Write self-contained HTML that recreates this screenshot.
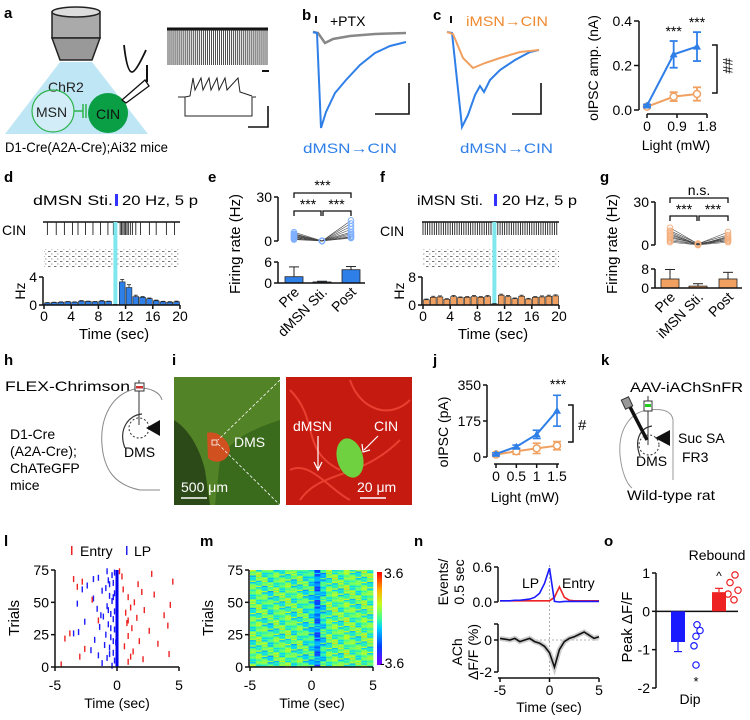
<!DOCTYPE html>
<html><head><meta charset="utf-8"><style>
html,body{margin:0;padding:0;background:#fff}
svg{display:block;font-family:"Liberation Sans",Arial,sans-serif}
.pl{font-weight:bold;font-size:15px}
.t{font-size:14px}
.tk{font-size:13px}
</style></head><body>
<svg id="fig" width="750" height="720" viewBox="0 0 750 720" xmlns="http://www.w3.org/2000/svg">
<defs>
<pattern id="rast" width="6" height="5" patternUnits="userSpaceOnUse"><rect x="0" y="1" width="2.5" height="1" fill="#777"/><rect x="3" y="3.5" width="1.5" height="1" fill="#999"/></pattern>
<linearGradient id="jet" x1="0" y1="1" x2="0" y2="0"><stop offset="0" stop-color="#7f00ff"/><stop offset="0.2" stop-color="#0040ff"/><stop offset="0.4" stop-color="#00d0ff"/><stop offset="0.5" stop-color="#40ff90"/><stop offset="0.65" stop-color="#c0ff20"/><stop offset="0.8" stop-color="#ffb000"/><stop offset="1" stop-color="#ff0000"/></linearGradient>
</defs>

<g>
<text class="pl" x="4" y="18">a</text><text class="pl" x="302" y="20">b</text><text class="pl" x="433" y="20">c</text>
<text class="pl" x="4" y="182">d</text><text class="pl" x="208" y="182">e</text><text class="pl" x="380" y="182">f</text><text class="pl" x="600" y="182">g</text>
<text class="pl" x="4" y="365">h</text><text class="pl" x="172" y="365">i</text><text class="pl" x="433" y="365">j</text><text class="pl" x="601" y="365">k</text>
<text class="pl" x="4" y="546">l</text><text class="pl" x="200" y="546">m</text><text class="pl" x="414" y="546">n</text><text class="pl" x="604" y="546">o</text>
</g>

<g>
<polygon points="60,62 92,62 148,134 5,134" fill="#bfe6f5"/>
<rect x="52" y="12" width="48" height="26" fill="#aaa" stroke="#222" stroke-width="1.5"/>
<ellipse cx="76" cy="12" rx="24" ry="5" fill="#ddd" stroke="#222" stroke-width="1.5"/>
<polygon points="52,38 100,38 92,60 60,60" fill="#999" stroke="#222" stroke-width="1.5"/>
<text x="48" y="92" class="t" fill="#222">ChR2</text>
<circle cx="53" cy="111" r="21" fill="#fff" fill-opacity="0.3" stroke="#2db34a" stroke-width="1.2"/>
<path d="M74,111 H83 M83,104 V118 M86,104 V118" stroke="#2db34a" stroke-width="1.5" fill="none"/>
<text x="36" y="117" class="t" fill="#222">MSN</text>
<circle cx="108" cy="113" r="20" fill="#0a9e45"/>
<text x="96" y="119" class="t" fill="#111">CIN</text>
<path d="M122,100 L145,80 L149,86 L126,103 Z" fill="#fff" stroke="#111" stroke-width="1.3"/>
<path d="M147,82 V65" stroke="#111" stroke-width="2"/>
<path d="M124,45 Q127,72 132,72 Q136,72 146,50" stroke="#111" stroke-width="1.8" fill="none"/>
<text x="5" y="152" class="t" textLength="163" lengthAdjust="spacingAndGlyphs">D1-Cre(A2A-Cre);Ai32 mice</text>
<g id="spikeA"></g>
<path d="M262,71 H269" stroke="#111" stroke-width="2"/>
<path d="M178,97 H185 M185,97 V116 H252 V97 H256" stroke="#222" stroke-width="1" fill="none"/>
<path d="M185,97 L190,96 L193,78 L195,90 L201,78 L203,90 L209,78 L211,90 L217,78 L219,90 L225,78 L227,90 L238,78 L240,92 L252,96" stroke="#222" stroke-width="1" fill="none"/>
<path d="M268,106 V127 H248" stroke="#111" stroke-width="1.6" fill="none"/>
</g>

<g>
<rect x="315" y="16" width="2" height="7" fill="#111"/>
<text x="330" y="26" class="t">+PTX</text>
<path d="M313,32 L318,33 L325,43 L333,39 L350,36 L375,34 L406,33" stroke="#888" stroke-width="2.5" fill="none"/>
<path d="M313,32 L317,33 L321,128 L326,112 L335,93 L346,80 L360,65 L375,53 L390,46 L406,42" stroke="#2f7fe8" stroke-width="2" fill="none"/>
<path d="M409,83 V114 H375" stroke="#111" stroke-width="1.6" fill="none"/>
<text x="303" y="153" class="t" fill="#2f7fe8" textLength="94" lengthAdjust="spacingAndGlyphs">dMSN→CIN</text>
</g>

<g>
<rect x="450" y="16" width="2" height="7" fill="#111"/>
<text x="466" y="26" class="t" fill="#f08a30" textLength="82" lengthAdjust="spacingAndGlyphs">iMSN→CIN</text>
<path d="M447,32 L452,33 L462,127 L468,115 L475,95 L480,86 L484,92 L490,80 L500,70 L515,60 L530,52 L539,50" stroke="#2f7fe8" stroke-width="2" fill="none"/>
<path d="M447,32 L453,34 L463,58 L473,68 L485,63 L500,58 L520,52 L539,50" stroke="#f0a060" stroke-width="2" fill="none"/>
<path d="M541,83 V114 H512" stroke="#111" stroke-width="1.6" fill="none"/>
<text x="460" y="153" class="t" fill="#2f7fe8" textLength="93" lengthAdjust="spacingAndGlyphs">dMSN→CIN</text>
</g>

<g id="chartC"></g>
<g id="chartD"></g>
<g id="chartE"></g>
<g id="chartF"></g>
<g id="chartG"></g>

<g>
<text x="33" y="205" class="t" textLength="80" lengthAdjust="spacingAndGlyphs">dMSN Sti.</text>
<rect x="115" y="194" width="3" height="12" fill="#3333ff"/>
<text x="122" y="205" class="t" textLength="76" lengthAdjust="spacingAndGlyphs">20 Hz, 5 p</text>
<text x="2" y="235" class="t">CIN</text>
</g>
<g>
<text x="417" y="205" class="t" textLength="66" lengthAdjust="spacingAndGlyphs">iMSN Sti.</text>
<rect x="494" y="194" width="3" height="12" fill="#3333ff"/>
<text x="502" y="205" class="t" textLength="75" lengthAdjust="spacingAndGlyphs">20 Hz, 5 p</text>
<text x="380" y="236" class="t">CIN</text>
</g>

<g>
<text x="5" y="391" class="t" textLength="125" lengthAdjust="spacingAndGlyphs">FLEX-Chrimson</text>
<text x="10" y="439" class="t">D1-Cre</text>
<text x="10" y="456" class="t">(A2A-Cre);</text>
<text x="10" y="473" class="t">ChATeGFP</text>
<text x="10" y="490" class="t">mice</text>
<path d="M140,388 C110,392 100,420 102,445 C104,470 115,485 140,490 L160,490" stroke="#888" stroke-width="1" fill="none"/>
<path d="M140,388 C150,388 160,392 162,400" stroke="#888" stroke-width="1" fill="none"/>
<path d="M125,448 C118,430 128,415 142,414" stroke="#333" stroke-width="1.2" fill="none"/>
<circle cx="139" cy="428" r="10" fill="none" stroke="#333" stroke-dasharray="2,2"/>
<path d="M139,380 V425" stroke="#333" stroke-width="1"/>
<rect x="135" y="383" width="9" height="8" fill="#fff" stroke="#333"/><rect x="136" y="386" width="7" height="2.5" fill="#c33"/>
<polygon points="146,428 160,420 160,436" fill="#111"/>
<text x="124" y="457" class="t">DMS</text>
</g>

<g>
<rect x="174" y="377" width="106" height="128" fill="#3a6a1c"/>
<path d="M174,377 H280 V420 C250,430 230,440 220,460 L215,505 H174 Z" fill="#5a8a2a" opacity="0.8"/>
<path d="M174,420 C190,430 200,450 205,470 L210,505 H174 Z" fill="#2c4a18"/>
<path d="M207,433 C215,430 228,438 230,450 C228,462 215,465 208,458 Z" fill="#d05020"/>
<rect x="212" y="440" width="5" height="5" fill="none" stroke="#fff" stroke-width="0.8"/>
<text x="234" y="447" class="t" fill="#fff">DMS</text>
<text x="181" y="492" class="t" fill="#fff">500 μm</text>
<path d="M181,498 H207" stroke="#fff" stroke-width="1.5"/>
<path d="M280,380 L218,440 M218,444 L280,505" stroke="#fff" stroke-dasharray="3,2" stroke-width="0.8"/>
<rect x="286" y="377" width="126" height="128" fill="#c41a10"/>
<path d="M290,390 C320,420 300,450 340,470 M300,500 C320,470 360,480 400,440 M350,380 C360,410 390,420 410,400 M290,470 C310,460 330,490 350,500" stroke="#e84030" stroke-width="2" fill="none"/>
<ellipse cx="350" cy="458" rx="13" ry="20" transform="rotate(-15 350 458)" fill="#6fd040"/>
<text x="293" y="431" class="t" fill="#fff">dMSN</text>
<text x="374" y="431" class="t" fill="#fff">CIN</text>
<path d="M318,436 V468 M314,462 L318,470 L322,462" stroke="#fff" stroke-width="1.2" fill="none"/>
<path d="M378,436 L364,450 M362,444 L363,452 L370,450" stroke="#fff" stroke-width="1.2" fill="none"/>
<text x="357" y="492" class="t" fill="#fff">20 μm</text>
<path d="M360,498 H386" stroke="#fff" stroke-width="1.5"/>
</g>

<g id="chartJ"></g>

<g>
<text x="630" y="392" class="t" textLength="113" lengthAdjust="spacingAndGlyphs">AAV-iAChSnFR</text>
<path d="M648,410 C630,412 618,430 620,455 C622,475 628,485 632,488" stroke="#999" stroke-width="1" fill="none"/>
<path d="M648,410 C665,408 672,412 673,420 V480" stroke="#999" stroke-width="1" fill="none"/>
<path d="M640,456 C634,440 640,428 652,426" stroke="#333" stroke-width="1.2" fill="none"/>
<path d="M648,396 V445" stroke="#333"/>
<rect x="644" y="401" width="8" height="10" fill="#fff" stroke="#333"/><rect x="645" y="404" width="6" height="3" fill="#2c2"/>
<path d="M629,405 L647,440" stroke="#111" stroke-width="3.5"/>
<rect x="623" y="398" width="8" height="10" fill="#999" stroke="#333" transform="rotate(-25 627 403)"/>
<circle cx="649" cy="445" r="10" fill="none" stroke="#333" stroke-dasharray="2,2"/>
<polygon points="655,438 670,430 670,446" fill="#111"/>
<text x="678" y="443" class="t">Suc SA</text>
<text x="682" y="462" class="t">FR3</text>
<text x="636" y="466" class="t">DMS</text>
<text x="627" y="500" class="t" textLength="88" lengthAdjust="spacingAndGlyphs">Wild-type rat</text>
</g>

<g id="chartL"></g>
<g id="chartM"></g>
<g id="chartN"></g>
<g id="chartO"></g>
</svg>
<script>
const spikeTimesA = [0,2,4,6,8,10,12,14,16,18,20,22,24,26,28,30,32,34,36,38,40,42,44,46,48,50,52,54,56,58,60,62,64,66,68,70,72,74,76,78,80,82,84,86,88,90,92,94,96,98,100];
const cLight = [0, 0.8, 1.5];
const cDmsn = [0.02, 0.25, 0.285];
const cDmsnErr = [0.005, 0.06, 0.065];
const cImsn = [0.015, 0.06, 0.072];
const cImsnErr = [0.005, 0.02, 0.03];
const cYTicks = ["0.0","0.2","0.4"];
const cXTicks = ["0","0.9","1.8"];
const dBins = [0.3,0.35,0.4,0.45,0.4,0.55,0.5,0.45,0.55,0.5,0.05,3.3,2.5,1.2,1.1,0.9,0.6,0.45,0.4,0.45];
const dErr = [0.05,0.05,0.05,0.05,0.05,0.08,0.05,0.05,0.08,0.05,0.02,0.35,0.4,0.2,0.1,0.1,0.1,0.08,0.08,0.1];
const dSpikes = [0.5,1.8,3,4.2,5,6.1,7.2,8.3,9.4,10.2,11.2,11.4,11.6,11.8,12,12.2,12.4,12.7,13,13.5,14.2,15.5,16.5,18,19.2];
const fBins = [1.5,2.2,2.3,1.6,2.4,2.1,2.2,2.4,2.2,2.4,0.3,2.8,2.4,1.8,2.5,1.7,2.2,2.3,2.5,2.6];
const fErr = [0.2,0.3,0.3,0.2,0.3,0.2,0.2,0.3,0.2,0.3,0.1,0.3,0.3,0.2,0.3,0.2,0.2,0.3,0.3,0.3];
const xTimeTicks = [0,4,8,12,16,20];
const eCats = ["Pre","dMSN Sti.","Post"];
const ePre = [1,2,2.5,3,4,5,6,3.5,1.5,4.5];
const eStim = [0,0,0,0.2,0,0,0.1,0,0,0];
const ePost = [2,3,4,6,8,10,12,14,2.5,5];
const eMeans = [1.8,0.3,3.8];
const eErrs = [2.8,0.2,0.9];
const gCats = ["Pre","iMSN Sti.","Post"];
const gPre = [2,4,5,6,8,10,12,3,7,9];
const gStim = [0,0.5,1,0.5,0,1,0.8,0.3,0.6,0.2];
const gPost = [2,3,4,5,6,7,9,4,5,3];
const gMeans = [3.8,0.8,3.8];
const gErrs = [4,1,2.8];
const jLight = [0,0.5,1,1.5];
const jDmsn = [15,50,110,225];
const jDmsnErr = [5,8,20,75];
const jImsn = [12,28,42,55];
const jImsnErr = [6,15,25,20];
const jXTicks = ["0","0.5","1","1.5"];
const jYTicks = [0,175,350];
const lpTicks = [[1,-0.4],[3,-1.2],[5,-0.2],[7,-0.8],[9,-1.5],[11,-0.3],[13,-2.1],[15,-0.6],[17,-1],[19,-0.1],[21,-1.8],[23,-0.5],[25,-0.9],[27,-3.1],[29,-0.2],[31,-1.4],[33,-0.7],[35,-2.6],[37,-0.3],[39,-1.1],[41,-0.5],[43,-0.2],[45,-1.6],[47,-0.8],[49,-3.2],[51,-0.4],[53,-1.9],[55,-0.6],[57,-0.2],[59,-1.2],[61,-0.9],[63,-2.4],[65,-0.3],[67,-0.7],[69,-1.5],[71,-0.4],[73,-0.2],[26,-3.5],[60,-2.8],[40,-1.3],[10,-0.6],[20,-0.3],[30,-0.5],[44,-0.7],[54,-0.3],[64,-0.6],[74,-0.8],[68,-1.9]];
const entryTicks = [[2,-4.5],[4,0.9],[6,2.1],[8,-3],[10,4.2],[12,1.3],[14,-2.6],[16,0.6],[18,3.3],[20,1.8],[22,-4.2],[24,0.9],[26,-3.8],[28,2.6],[30,1.2],[32,4.1],[34,0.8],[36,-1.5],[38,1.6],[40,3.8],[42,0.7],[44,2.2],[46,1.1],[48,4.3],[50,1.4],[52,-2],[54,0.9],[56,3],[58,2],[60,0.5],[62,-3.2],[64,1.7],[66,4.5],[68,-3.5],[70,0.4],[72,2.8],[74,0.2],[8,1.1],[36,0.9],[66,-2.8]];
const mColProfile = [0,0.2,0,-0.2,0.1,0,0.2,-0.1,0.1,-0.2,-0.4,-1.6,-0.5,0.1,0.2,0,0.3,0.1,0,0.2,0.1];
const mRowOffset = [0.3,-0.6,0.9,-0.2,0.5,-1,0.2,1.2,-0.4,0.6,-0.8,0.1,1,-0.3,0.4,-1.2,0.7,0,1.4,-0.5,0.3,-0.9,0.8,-0.1,0.5];
const nTime = [-5,-4.5,-4,-3.5,-3,-2.5,-2,-1.5,-1,-0.5,0,0.5,1,1.5,2,2.5,3,3.5,4,4.5,5];
const nLP = [0.02,0.02,0.02,0.03,0.03,0.04,0.05,0.08,0.15,0.32,0.58,0.01,0,0.01,0.01,0.01,0.01,0.01,0.01,0.01,0.01];
const nEntry = [0.02,0.02,0.02,0.02,0.02,0.02,0.02,0.02,0.02,0.02,0.02,0.08,0.26,0.08,0.03,0.02,0.02,0.02,0.02,0.02,0.02];
const nAch = [0.1,0.05,0,0.1,-0.1,0,0.1,-0.1,-0.2,-0.4,-0.8,-1.7,-0.6,-0.1,0.1,0.2,0.35,0.5,0.3,0.1,0.2];
const oMeans = [-0.8,0.5];
const oErrs = [0.25,0.1];
const oDip = [-0.35,-0.5,-0.65,-0.9,-1.4];
const oReb = [0.95,0.75,0.55,0.45,0.3];
const oYTicks = [1,0,-1,-2];

const NS = "http://www.w3.org/2000/svg";
function mk(tag, parent, attrs){const e=document.createElementNS(NS,tag);for(const k in attrs)e.setAttribute(k,attrs[k]);parent.appendChild(e);return e;}
function lin(d0,d1,r0,r1){return v=>r0+(v-d0)*(r1-r0)/(d1-d0);}
function txt(parent,x,y,s,opts){const t=mk("text",parent,Object.assign({x:x,y:y,"font-size":13},opts||{}));t.textContent=s;return t;}
function line(parent,x1,y1,x2,y2,stroke,w){return mk("line",parent,{x1:x1,y1:y1,x2:x2,y2:y2,stroke:stroke||"#111","stroke-width":w||1.5});}

(function(){const g=document.getElementById("spikeA");const x=lin(0,100,168,267);
 line(g,167,29,268,29,"#111",3);
 spikeTimesA.forEach(v=>{const l=line(g,x(v),29,x(v),65,"#222",0.8);});})();

(function(){const g=document.getElementById("chartC");const x=lin(0,1.8,647,707),y=lin(0,0.4,110,21);
 line(g,639,21,639,110);[0,0.2,0.4].forEach((v,i)=>{line(g,634,y(v),639,y(v));txt(g,632,y(v)+5,cYTicks[i],{"text-anchor":"end","font-size":14});});
 line(g,647,114,707,114);[0,0.9,1.8].forEach((v,i)=>{line(g,x(v),114,x(v),118);txt(g,x(v),131,cXTicks[i],{"text-anchor":"middle","font-size":14});});
 txt(g,676,150,"Light (mW)",{"text-anchor":"middle","font-size":14});
 txt(g,0,0,"oIPSC amp. (nA)",{"text-anchor":"middle","font-size":14,transform:"translate(598,68) rotate(-90)"});
 function series(vals,errs,col,filled,nm){let p="";vals.forEach((v,i)=>{p+=(i?"L":"M")+x(cLight[i])+","+y(v);});
  const pl=mk("path",g,{d:p,stroke:col,"stroke-width":2,fill:"none"});
  vals.forEach((v,i)=>{const cx=x(cLight[i]);line(g,cx,y(v-errs[i]),cx,y(v+errs[i]),col,1.8);line(g,cx-4,y(v+errs[i]),cx+4,y(v+errs[i]),col,1.8);line(g,cx-4,y(v-errs[i]),cx+4,y(v-errs[i]),col,1.8);
   const c=mk(filled?"polygon":"circle",g,filled?{points:`${cx},${y(v)-4} ${cx-4},${y(v)+3} ${cx+4},${y(v)+3}`,fill:col}:{cx:cx,cy:y(v),r:3.5,fill:"#fff",stroke:col,"stroke-width":1.5});
   });}
 series(cImsn,cImsnErr,"#f0a060",false,"imsn");series(cDmsn,cDmsnErr,"#2f7fe8",true,"dmsn");
 txt(g,x(cLight[1]),36,"***",{"text-anchor":"middle","font-size":14});txt(g,x(cLight[2]),27,"***",{"text-anchor":"middle","font-size":14});
 mk("path",g,{d:"M712,45 H717 V93 H712",stroke:"#111","stroke-width":1.5,fill:"none"});
 txt(g,0,0,"##",{"font-size":14,transform:"translate(723,58) rotate(90)"});})();

function psth(id,x0,bins,errs,ymax,col,spikes){const g=document.getElementById(id);const x=lin(0,20,x0,x0+136),y=lin(0,ymax,305,277);
 const base=x0-1;
 line(g,base,222,x0+136,222,"#111",1.5);
 spikes.forEach(v=>{const l=line(g,x(v),222,x(v),235,"#222",0.9);});
 mk("rect",g,{x:x0,y:249,width:136,height:19,fill:"url(#rast)"});
 mk("rect",g,{x:x(10.5)-2,y:222,width:4,height:83,fill:"#7fe8ee"});
 line(g,base,277,base,305);[0,ymax].forEach(v=>{line(g,base-4,y(v),base,y(v));txt(g,base-6,y(v)+5,String(v),{"text-anchor":"end","font-size":14});});
 bins.forEach((v,i)=>{const r=mk("rect",g,{x:x(i)+0.5,y:y(v),width:x(1)-x(0)-1,height:305-y(v),fill:col,stroke:"#222","stroke-width":0.6});
  
  line(g,x(i+0.5),y(v),x(i+0.5),y(v+errs[i]),"#222",0.8);line(g,x(i+0.5)-2,y(v+errs[i]),x(i+0.5)+2,y(v+errs[i]),"#222",0.8);});
 line(g,base,305,x0+136,305);
 xTimeTicks.forEach(v=>{line(g,x(v),305,x(v),309);txt(g,x(v),321,String(v),{"text-anchor":"middle","font-size":14});});
 txt(g,x0+70,339,"Time (sec)",{"text-anchor":"middle","font-size":15});
 txt(g,0,0,"Hz",{"text-anchor":"middle","font-size":14,transform:`translate(${base-18},291) rotate(-90)`});}
psth("chartD",44,dBins,dErr,4,"#2f7fe8",dSpikes);
const fSpikes=[];for(let i=0;i<60;i++){fSpikes.push(i/3);}
psth("chartF",423,fBins,fErr,8,"#f0a060",fSpikes);

function frChart(id,ax,cx,up,low,ymaxLow,pre,stim,post,means,errs,cats,col,fill,sig){const g=document.getElementById(id);
 const yu=lin(0,30,up[1],up[0]),yl=lin(0,ymaxLow,low[1],low[0]);
 line(g,ax,up[0],ax,up[1]);[0,30].forEach(v=>{line(g,ax-4,yu(v),ax,yu(v));txt(g,ax-6,yu(v)+5,String(v),{"text-anchor":"end","font-size":14});});
 pre.forEach((v,i)=>{const p=mk("path",g,{d:`M${cx[0]},${yu(v)} L${cx[1]},${yu(stim[i])} L${cx[2]},${yu(post[i%post.length])}`,stroke:"#444","stroke-width":0.6,fill:"none"});
  });
 [pre,stim,post].forEach((arr,k)=>arr.forEach(v=>{const c=mk("circle",g,{cx:cx[k],cy:yu(v),r:2.8,fill:"none",stroke:col,"stroke-width":1});}));
 line(g,ax,low[0],ax,low[1]);[0,ymaxLow].forEach(v=>{line(g,ax-4,yl(v),ax,yl(v));txt(g,ax-6,yl(v)+5,String(v),{"text-anchor":"end","font-size":14});});
 means.forEach((v,i)=>{const r=mk("rect",g,{x:cx[i]-9,y:yl(v),width:18,height:Math.max(1,yl(0)-yl(v)),fill:fill,stroke:"#222","stroke-width":0.8});
  
  line(g,cx[i],yl(v),cx[i],yl(v+errs[i]),"#222",1);line(g,cx[i]-5,yl(v+errs[i]),cx[i]+5,yl(v+errs[i]),"#222",1);});
 line(g,ax,low[1],cx[2]+14,low[1]);
 cats.forEach((c,i)=>{txt(g,0,0,c,{"text-anchor":"end","font-size":14,transform:`translate(${cx[i]+6},${low[1]+10}) rotate(-45)`});});
 const top=up[0]-4, mid=up[0]+14;
 mk("path",g,{d:`M${cx[0]},${top+5} V${top} H${cx[2]} V${top+5}`,stroke:"#111","stroke-width":1.3,fill:"none"});
 txt(g,(cx[0]+cx[2])/2,top-3,sig,{"text-anchor":"middle","font-size":14});
 mk("path",g,{d:`M${cx[0]},${mid+5} V${mid} H${cx[1]-1} V${mid+5} M${cx[1]+1},${mid+5} V${mid} H${cx[2]} V${mid+5}`,stroke:"#111","stroke-width":1.3,fill:"none"});
 txt(g,(cx[0]+cx[1])/2,mid-2,"***",{"text-anchor":"middle","font-size":14});txt(g,(cx[1]+cx[2])/2,mid-2,"***",{"text-anchor":"middle","font-size":14});
 txt(g,0,0,"Firing rate (Hz)",{"text-anchor":"middle","font-size":15,transform:`translate(${ax-38},244) rotate(-90)`});}
frChart("chartE",278,[294,322,351],[197,241],[262,283],6,ePre,eStim,ePost,eMeans,eErrs,eCats,"#7fb0ff","#2f7fe8","***");
frChart("chartG",655,[670,698,728],[202,245],[269,288],8,gPre,gStim,gPost,gMeans,gErrs,gCats,"#f5b080","#f0a060","n.s.");

(function(){const g=document.getElementById("chartJ");const x=lin(0,1.5,496,557),y=lin(0,350,457,385);
 line(g,487,385,487,457);jYTicks.forEach(v=>{line(g,483,y(v),487,y(v));txt(g,481,y(v)+5,String(v),{"text-anchor":"end","font-size":14});});
 line(g,494,464,559,464);jLight.forEach((v,i)=>{line(g,x(v),464,x(v),468);txt(g,x(v),481,jXTicks[i],{"text-anchor":"middle","font-size":14});});
 txt(g,525,502,"Light (mW)",{"text-anchor":"middle","font-size":14});
 txt(g,0,0,"oIPSC (pA)",{"text-anchor":"middle","font-size":14,transform:"translate(448,432) rotate(-90)"});
 function series(vals,errs,col,filled,nm){let p="";vals.forEach((v,i)=>{p+=(i?"L":"M")+x(jLight[i])+","+y(v);});
  const pl=mk("path",g,{d:p,stroke:col,"stroke-width":2,fill:"none"});
  vals.forEach((v,i)=>{const cx=x(jLight[i]);line(g,cx,y(v-errs[i]),cx,y(v+errs[i]),col,1.6);line(g,cx-4,y(v+errs[i]),cx+4,y(v+errs[i]),col,1.6);line(g,cx-4,y(v-errs[i]),cx+4,y(v-errs[i]),col,1.6);
   const c=mk(filled?"polygon":"circle",g,filled?{points:`${cx},${y(v)-4} ${cx-4},${y(v)+3} ${cx+4},${y(v)+3}`,fill:col}:{cx:cx,cy:y(v),r:3.5,fill:"#fff",stroke:col,"stroke-width":1.5});
   });}
 series(jImsn,jImsnErr,"#f0a060",false,"imsn");series(jDmsn,jDmsnErr,"#2f7fe8",true,"dmsn");
 txt(g,558,389,"***",{"text-anchor":"middle","font-size":14});
 mk("path",g,{d:"M568,405 H573 V442 H568",stroke:"#111","stroke-width":1.5,fill:"none"});
 txt(g,578,430,"#",{"font-size":15});})();

(function(){const g=document.getElementById("chartL");const x=lin(-5,5,55,179),y=lin(0,75,667,570);
 mk("rect",g,{x:x(-0.12),y:570,width:3,height:97,fill:"#0000ee"});
 lpTicks.forEach(d=>{const r=mk("rect",g,{x:x(d[1])-0.7,y:y(d[0])-3,width:1.4,height:6,fill:"#1a1aff"});});
 entryTicks.forEach(d=>{const r=mk("rect",g,{x:x(d[1])-0.7,y:y(d[0])-3,width:1.4,height:6,fill:"#ee2222"});});
 line(g,55,570,55,667);[0,25,50,75].forEach(v=>{line(g,51,y(v),55,y(v));txt(g,49,y(v)+5,String(v),{"text-anchor":"end","font-size":14});});
 line(g,55,667,179,667);[-5,0,5].forEach(v=>{line(g,x(v),667,x(v),671);txt(g,x(v),690,String(v),{"text-anchor":"middle","font-size":14});});
 txt(g,117,708,"Time (sec)",{"text-anchor":"middle","font-size":14});
 txt(g,0,0,"Trials",{"text-anchor":"middle","font-size":15,transform:"translate(19,618) rotate(-90)"});
 mk("rect",g,{x:71,y:546,width:1.5,height:9,fill:"#e22"});txt(g,80,556,"Entry",{"font-size":14});
 mk("rect",g,{x:126,y:546,width:1.5,height:9,fill:"#22e"});txt(g,134,556,"LP",{"font-size":14});})();

(function(){const g=document.getElementById("chartM");const x=lin(-5,5,250,373),y=lin(0,75,667,570);
 const stops=[[0,[127,0,255]],[0.2,[0,64,255]],[0.4,[0,208,255]],[0.5,[64,255,144]],[0.65,[192,255,32]],[0.8,[255,176,0]],[1,[255,0,0]]];
 function cmap(v){let t=(v+3.6)/7.2;t=Math.max(0,Math.min(1,t));for(let i=1;i<stops.length;i++){if(t<=stops[i][0]){const a=stops[i-1],b=stops[i];const f=(t-a[0])/(b[0]-a[0]);return `rgb(${a[1].map((c,k)=>Math.round(c+(b[1][k]-c)*f)).join(",")})`;}}return "rgb(255,0,0)";}
 const nc=mColProfile.length, cw=(373-250)/nc;
 for(let r=0;r<75;r++){for(let c=0;c<nc;c++){const v=mColProfile[c]+mRowOffset[(r*7+c*3)%mRowOffset.length]*0.9;
  const cell=mk("rect",g,{x:250+c*cw,y:y(r+1),width:cw+0.3,height:y(r)-y(r+1)+0.3,fill:cmap(v)});
  }}
 line(g,249,570,249,667);[0,25,50,75].forEach(v=>{line(g,245,y(v),249,y(v));txt(g,243,y(v)+5,String(v),{"text-anchor":"end","font-size":14});});
 line(g,249,667,373,667);[-5,0,5].forEach(v=>{line(g,x(v),667,x(v),671);txt(g,x(v),690,String(v),{"text-anchor":"middle","font-size":14});});
 txt(g,312,708,"Time (sec)",{"text-anchor":"middle","font-size":14});
 txt(g,0,0,"Trials",{"text-anchor":"middle","font-size":15,transform:"translate(213,618) rotate(-90)"});
 const cb=mk("rect",g,{x:377,y:572,width:5,height:93,fill:"url(#jet)"});
 txt(g,384,578,"3.6",{"font-size":14});txt(g,380,668,"-3.6",{"font-size":14});})();

(function(){const g=document.getElementById("chartN");const x=lin(-5,5,500,599),yu=lin(0,0.6,602,567),yl=lin(-2,1,672,624);
 line(g,x(0),565,x(0),680,"#999",0.8).setAttribute("stroke-dasharray","2,2");
 line(g,500,yl(0),599,yl(0),"#999",0.8).setAttribute("stroke-dasharray","2,2");
 function path(vals,yf){let p="";vals.forEach((v,i)=>{p+=(i?"L":"M")+x(nTime[i])+","+yf(v);});return p;}
 const a=mk("path",g,{d:path(nEntry,yu),stroke:"#ee2222","stroke-width":1.6,fill:"none"});
 const b=mk("path",g,{d:path(nLP,yu),stroke:"#1a1aff","stroke-width":1.6,fill:"none"});
 const s=mk("path",g,{d:path(nAch,yl),stroke:"#ccc","stroke-width":5,fill:"none"});
 const c=mk("path",g,{d:path(nAch,yl),stroke:"#111","stroke-width":1.6,fill:"none"});
 line(g,498,567,498,602);[0,0.6].forEach(v=>{line(g,494,yu(v),498,yu(v));txt(g,492,yu(v)+5,v.toFixed(1),{"text-anchor":"end","font-size":14});});
 line(g,498,624,498,672);[0,-2].forEach(v=>{line(g,494,yl(v),498,yl(v));txt(g,492,yl(v)+5,String(v),{"text-anchor":"end","font-size":14});});line(g,494,yl(1),498,yl(1));
 line(g,498,678,599,678);[-5,0,5].forEach(v=>{line(g,x(v),678,x(v),682);txt(g,x(v),695,String(v),{"text-anchor":"middle","font-size":14});});
 txt(g,549,712,"Time (sec)",{"text-anchor":"middle","font-size":14});
 txt(g,522,588,"LP",{"font-size":14});txt(g,562,588,"Entry",{"font-size":14});
 txt(g,0,0,"Events/",{"text-anchor":"middle","font-size":14,transform:"translate(448,582) rotate(-90)"});
 txt(g,0,0,"0.5 sec",{"text-anchor":"middle","font-size":14,transform:"translate(464,582) rotate(-90)"});
 txt(g,0,0,"ACh",{"text-anchor":"middle","font-size":14,transform:"translate(462,652) rotate(-90)"});
 txt(g,0,0,"ΔF/F (%)",{"text-anchor":"middle","font-size":14,transform:"translate(478,652) rotate(-90)"});})();

(function(){const g=document.getElementById("chartO");const y=lin(-2,1,688,573);const bx=[678,719];
 line(g,656,573,656,688);oYTicks.forEach(v=>{line(g,652,y(v),656,y(v));txt(g,650,y(v)+5,String(v),{"text-anchor":"end","font-size":14});});
 line(g,656,y(0),738,y(0));
 const cols=["#1a1aff","#ee2222"];
 oMeans.forEach((v,i)=>{const top=Math.min(y(v),y(0)),h=Math.abs(y(v)-y(0));
  const r=mk("rect",g,{x:bx[i]-7,y:top,width:14,height:h,fill:cols[i]});
  const e=v+Math.sign(v)*oErrs[i];line(g,bx[i],y(v),bx[i],y(e),cols[i],1.2);line(g,bx[i]-4,y(e),bx[i]+4,y(e),cols[i],1.2);});
 const dx=[697,700,696,694,696];oDip.forEach((v,i)=>{const c=mk("circle",g,{cx:dx[i],cy:y(v),r:3.2,fill:"none",stroke:"#1a1aff","stroke-width":1.2});});
 const rx=[735,730,738,728,734];oReb.forEach((v,i)=>{const c=mk("circle",g,{cx:rx[i],cy:y(v),r:3.2,fill:"none",stroke:"#ee2222","stroke-width":1.2});});
 txt(g,717,560,"Rebound",{"text-anchor":"middle","font-size":14});txt(g,719,580,"^",{"text-anchor":"middle","font-size":12});
 txt(g,696,686,"*",{"text-anchor":"middle","font-size":13});txt(g,690,704,"Dip",{"text-anchor":"middle","font-size":14});
 txt(g,0,0,"Peak ΔF/F",{"text-anchor":"middle","font-size":15,transform:"translate(632,627) rotate(-90)"});})();
</script>
</body></html>
